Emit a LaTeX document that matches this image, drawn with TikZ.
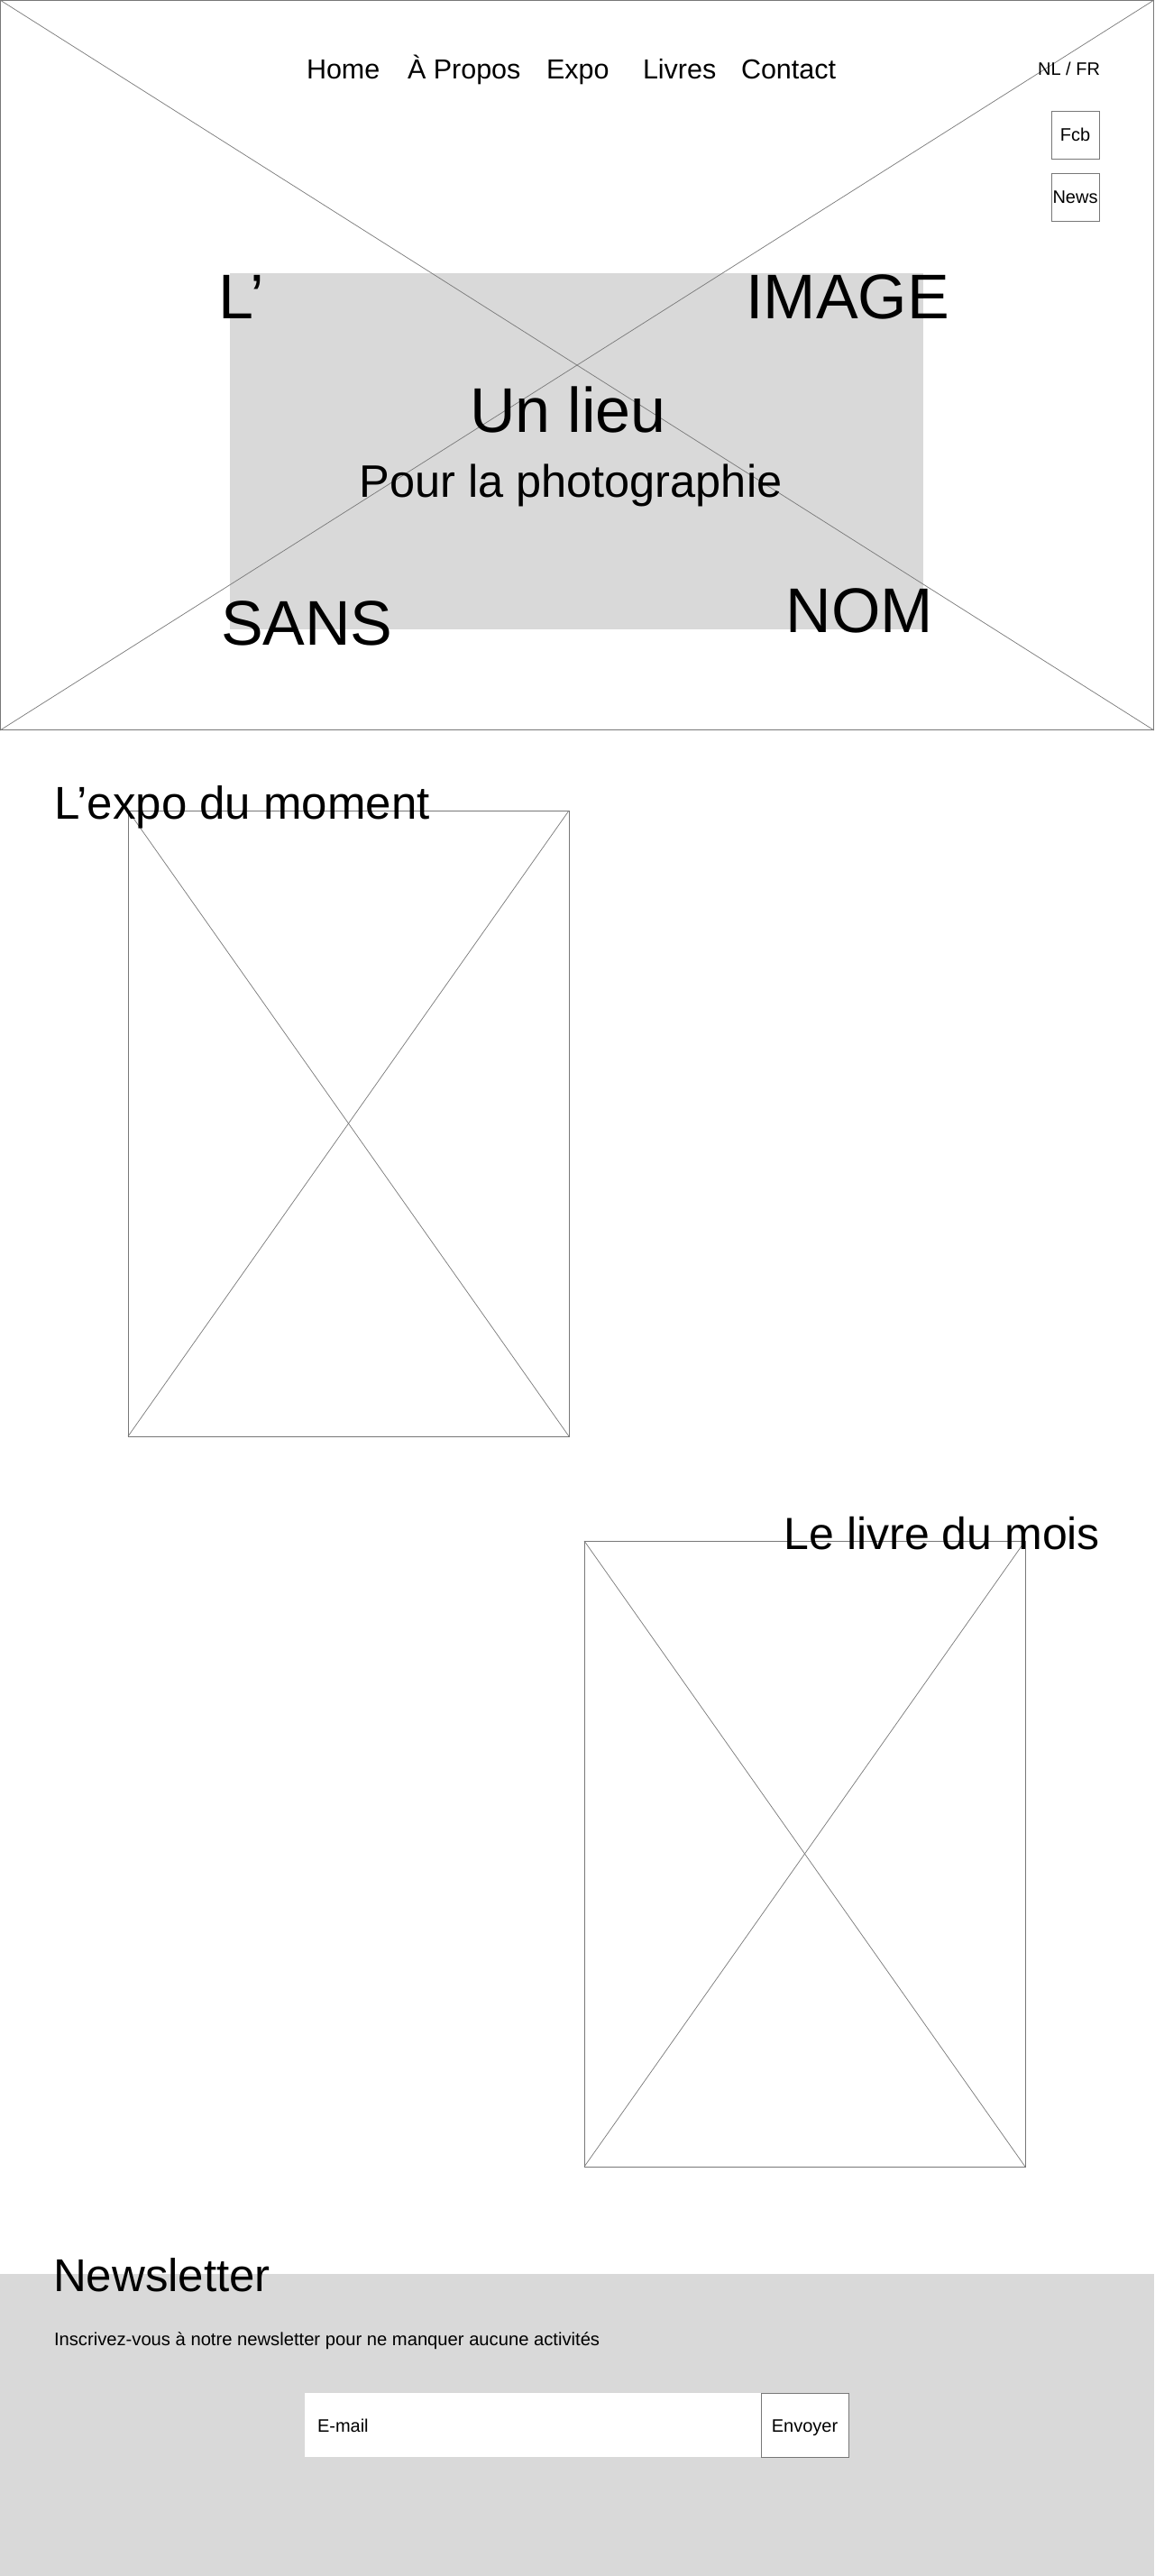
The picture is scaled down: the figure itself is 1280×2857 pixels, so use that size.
\documentclass[tikz,border=0pt]{standalone}
\usepackage{fontspec}
\setmainfont{Liberation Sans}
\definecolor{linegray}{RGB}{120,120,120}
\definecolor{fillgray}{RGB}{217,217,217}
\newcommand\fsz[1]{\fontsize{#1}{#1}\selectfont}
\tikzset{
  frameline/.style={draw=linegray, line width=1pt},
  diagline/.style={draw=linegray, line width=0.7pt},
  txt/.style={inner sep=0pt, outer sep=0pt, text=black},
  navtxt/.style={txt, anchor=base west, font=\fsz{30.5}},
  smalltxt/.style={txt, font=\fsz{20}},
  bigtxt/.style={txt, font=\fsz{70}},
  headtxt/.style={txt, font=\fsz{51}},
  iconbox/.style={frameline, fill=white, minimum width=53pt, minimum height=53pt, inner sep=0pt, font=\fsz{20}},
}
\begin{document}
\begin{tikzpicture}[x=1pt,y=-1pt]
\useasboundingbox (0,0) rectangle (1280,2857);
\fill[white] (0,0) rectangle (1280,2857);

% ---------- hero ----------
\coordinate (heroNW) at (0,0);
\coordinate (heroNE) at (1280,0);
\coordinate (heroSW) at (0,810);
\coordinate (heroSE) at (1280,810);
\fill[fillgray] (255,303) rectangle (1024,698);
\draw[diagline] (heroNW) -- (heroSE);
\draw[diagline] (heroNE) -- (heroSW);
\draw[frameline] (0.5,0.5) rectangle (1279.5,809.5);

\node[navtxt] (home) at (340,87) {Home};
\node[navtxt] (apropos) at (452,87) {À Propos};
\node[navtxt] (expo) at (606,87) {Expo};
\node[navtxt] (livres) at (713,87) {Livres};
\node[navtxt] (contact) at (822,87) {Contact};
\node[smalltxt, anchor=base east] (lang) at (1220,83) {NL / FR};

\node[iconbox] (fcb) at (1192.5,149.5) {Fcb};
\node[iconbox] (news) at (1192.5,218.5) {News};

\node[bigtxt, anchor=base west] (limg) at (242,353) {L’};
\node[bigtxt, anchor=base east] (image) at (1053,353) {IMAGE};
\node[bigtxt, anchor=base] (lieu) at (630,479) {Un lieu};
\node[txt, font=\fsz{50.5}, anchor=base] (photo) at (633,551) {Pour la photographie};
\node[bigtxt, anchor=base west] (sans) at (245,715) {SANS};
\node[bigtxt, anchor=base east] (nom) at (1035,701) {NOM};

% ---------- expo ----------
\coordinate (expoNW) at (142,899);
\coordinate (expoSE) at (631,1593);
\coordinate (expoNE) at (631,899);
\coordinate (expoSW) at (142,1593);
\draw[diagline] (expoNW) -- (expoSE);
\draw[diagline] (expoNE) -- (expoSW);
\draw[frameline] (expoNW) rectangle (expoSE);
\node[headtxt, anchor=base west] (expohead) at (60,908) {L’expo du moment};

% ---------- livre ----------
\coordinate (livNW) at (648,1709);
\coordinate (livSE) at (1137,2403);
\coordinate (livNE) at (1137,1709);
\coordinate (livSW) at (648,2403);
\draw[diagline] (livNW) -- (livSE);
\draw[diagline] (livNE) -- (livSW);
\draw[frameline] (livNW) rectangle (livSE);
\node[txt, font=\fsz{50}, anchor=base east] (livhead) at (1220,1718) {Le livre du mois};

% ---------- newsletter ----------
\fill[fillgray] (0,2522) rectangle (1280,2857);
\node[headtxt, anchor=base west] (nlhead) at (59,2541) {Newsletter};
\node[txt, font=\fsz{20.2}, anchor=base west] (nltext) at (60,2601) {Inscrivez-vous à notre newsletter pour ne manquer aucune activités};
\fill[white] (338,2654) rectangle (844,2725);
\node[txt, anchor=base west, font=\fsz{20}] (email) at (352,2697) {E-mail};
\draw[frameline, fill=white] (844,2654) rectangle (941,2725);
\node[smalltxt, anchor=base] (envoyer) at (892.5,2697) {Envoyer};
\end{tikzpicture}
\end{document}
